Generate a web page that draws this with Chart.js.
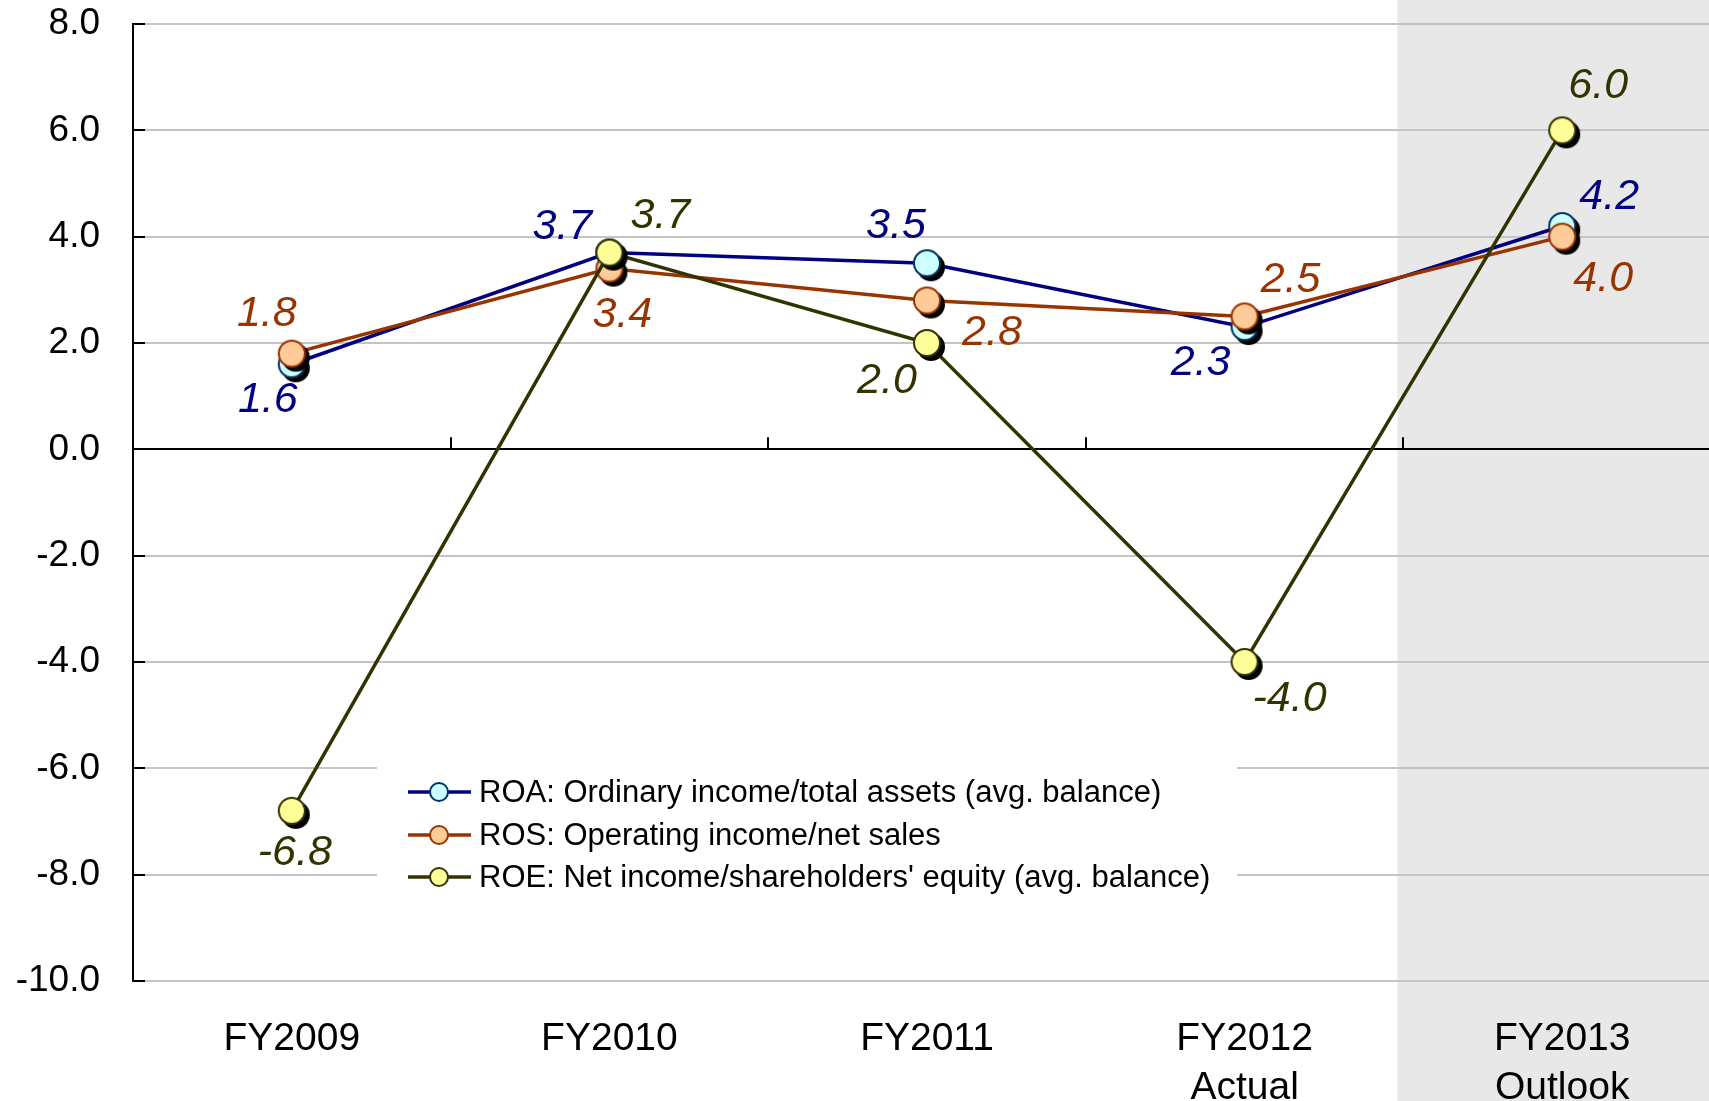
<!DOCTYPE html>
<html>
<head>
<meta charset="utf-8">
<title>ROA / ROS / ROE</title>
<script src="https://cdn.jsdelivr.net/npm/chart.js@4"></script>
<style>
    html, body { margin: 0; padding: 0; background: #ffffff; overflow: hidden; }
    #graficoRatios { position: absolute; left: 0; top: 0; }
</style>
</head>
<body>
<canvas id="graficoRatios" width="1725" height="1101"></canvas>
<script>
// =========================================================================================
// DATA
// =========================================================================================

const categories = [['FY2009'], ['FY2010'], ['FY2011'], ['FY2012', 'Actual'], ['FY2013', 'Outlook']];
const roaValues = [1.6, 3.7, 3.5, 2.3, 4.2];
const rosValues = [1.8, 3.4, 2.8, 2.5, 4.0];
const roeValues = [-6.8, 3.7, 2.0, -4.0, 6.0];
const yTicks = [-10, -8, -6, -4, -2, 0, 2, 4, 6, 8];

const seriesNames = [
    'ROA: Ordinary income/total assets (avg. balance)',
    'ROS: Operating income/net sales',
    "ROE: Net income/shareholders' equity (avg. balance)"
];

// label offsets from each point (px), one per category
const labelOffsets = {
    roa: [[-24, 36], [-47, -26], [-31, -37], [-44, 36], [47, -29]],
    ros: [[-25, -40], [13, 46], [65, 33], [46, -36], [41, 42]],
    roe: [[3, 42], [51, -37], [-40, 38], [45, 37], [36, -44]]
};

const FONT = '"Liberation Sans", Arial, sans-serif';

// marker with a black drop shadow, used as pointStyle image
function makeMarker(fill, border, r, off) {
    const size = 2 * (r + off + 3);
    const cv = document.createElement('canvas');
    cv.width = size;
    cv.height = size;
    const c = cv.getContext('2d');
    const m = size / 2;
    c.fillStyle = '#000000';
    c.beginPath();
    c.arc(m + off, m + off, r + 1, 0, Math.PI * 2);
    c.fill();
    c.fillStyle = fill;
    c.strokeStyle = border;
    c.lineWidth = 2;
    c.beginPath();
    c.arc(m, m, r, 0, Math.PI * 2);
    c.fill();
    c.stroke();
    return cv;
}

const series = [
    { key: 'roa', label: seriesNames[0], data: roaValues, line: '#000080', fill: '#ccffff', border: '#003366', order: 3 },
    { key: 'ros', label: seriesNames[1], data: rosValues, line: '#993300', fill: '#ffcc99', border: '#993300', order: 2 },
    { key: 'roe', label: seriesNames[2], data: roeValues, line: '#333300', fill: '#ffff99', border: '#333300', order: 1 }
];

// gray band behind the outlook year + inner tick marks
const fondoPlugin = {
    id: 'fondo',
    beforeDraw(chart) {
        const ctx = chart.ctx;
        const x = chart.scales.x;
        const start = x.getPixelForValue(3.5) - 6;
        ctx.save();
        ctx.fillStyle = '#e8e8e8';
        ctx.fillRect(start, 0, chart.width - start, chart.height);
        ctx.restore();
    },
    beforeDatasetsDraw(chart) {
        const ctx = chart.ctx;
        const x = chart.scales.x;
        const y = chart.scales.y;
        const left = chart.chartArea.left;
        ctx.save();
        ctx.strokeStyle = '#000000';
        ctx.lineWidth = 2;
        yTicks.forEach(v => {
            const py = Math.round(y.getPixelForValue(v));
            ctx.beginPath();
            ctx.moveTo(left, py);
            ctx.lineTo(left + 12, py);
            ctx.stroke();
        });
        const y0 = y.getPixelForValue(0);
        [0.5, 1.5, 2.5, 3.5].forEach(v => {
            const px = Math.round(x.getPixelForValue(v));
            ctx.beginPath();
            ctx.moveTo(px, y0);
            ctx.lineTo(px, y0 - 12);
            ctx.stroke();
        });
        ctx.restore();
    }
};

// value labels next to each point
const etiquetasPlugin = {
    id: 'etiquetas',
    afterDatasetsDraw(chart) {
        const ctx = chart.ctx;
        ctx.save();
        ctx.font = 'italic 43px ' + FONT;
        ctx.textAlign = 'center';
        ctx.textBaseline = 'middle';
        chart.data.datasets.forEach((ds, i) => {
            const meta = chart.getDatasetMeta(i);
            const offs = labelOffsets[ds.key];
            ctx.fillStyle = ds.borderColor;
            meta.data.forEach((pt, j) => {
                ctx.fillText(ds.data[j].toFixed(1), pt.x + offs[j][0], pt.y + offs[j][1]);
            });
        });
        ctx.restore();
    }
};

// legend drawn inside the plot
const leyendaPlugin = {
    id: 'leyenda',
    afterDraw(chart) {
        const ctx = chart.ctx;
        ctx.save();
        ctx.fillStyle = '#ffffff';
        ctx.fillRect(377, 750, 860, 155);
        const rows = [792, 835, 877];
        series.forEach((s, i) => {
            const yy = rows[i];
            ctx.strokeStyle = s.line;
            ctx.lineWidth = 3.5;
            ctx.beginPath();
            ctx.moveTo(408, yy);
            ctx.lineTo(471, yy);
            ctx.stroke();
            ctx.fillStyle = s.fill;
            ctx.strokeStyle = s.border;
            ctx.lineWidth = 2;
            ctx.beginPath();
            ctx.arc(439, yy, 9, 0, Math.PI * 2);
            ctx.fill();
            ctx.stroke();
            ctx.fillStyle = '#000000';
            ctx.font = '31px ' + FONT;
            ctx.textAlign = 'left';
            ctx.textBaseline = 'middle';
            ctx.fillText(s.label, 479, yy + 1);
        });
        ctx.restore();
    }
};

const ctx = document.getElementById('graficoRatios').getContext('2d');
const myChart = new Chart(ctx, {
    type: 'line',
    data: {
        labels: categories,
        datasets: series.map(s => ({
            key: s.key,
            label: s.label,
            data: s.data,
            order: s.order,
            borderColor: s.line,
            backgroundColor: s.fill,
            borderWidth: 3.5,
            tension: 0,
            fill: false,
            pointStyle: makeMarker(s.fill, s.border, 13, 4),
            pointRadius: 13
        }))
    },
    plugins: [fondoPlugin, etiquetasPlugin, leyendaPlugin],
    options: {
        responsive: false,
        animation: false,
        devicePixelRatio: 1,
        layout: { autoPadding: false, padding: { top: 24, right: 4, bottom: 0, left: 0 } },
        plugins: {
            legend: { display: false },
            tooltip: { enabled: false }
        },
        scales: {
            x: {
                offset: true,
                grid: { display: false, drawTicks: false },
                border: { display: false },
                ticks: {
                    color: '#000000',
                    font: { size: 39, family: FONT, lineHeight: 1.25 },
                    padding: 34,
                    maxRotation: 0,
                    autoSkip: false
                },
                afterFit(scale) { scale.height = 120; }
            },
            y: {
                min: -10,
                max: 8,
                afterBuildTicks(scale) {
                    scale.ticks = yTicks.map(v => ({ value: v }));
                },
                grid: {
                    drawTicks: false,
                    color: c => (c.tick && c.tick.value === 0) ? '#000000' : '#c4c4c4',
                    lineWidth: 2
                },
                border: { display: true, color: '#000000', width: 2 },
                ticks: {
                    color: '#000000',
                    font: { size: 37, family: FONT },
                    padding: 33,
                    callback: v => v.toFixed(1)
                },
                afterFit(scale) {
                    scale.width = 133;
                    scale.paddingTop = 0;
                    scale.paddingBottom = 0;
                }
            }
        }
    }
});
</script>
</body>
</html>
